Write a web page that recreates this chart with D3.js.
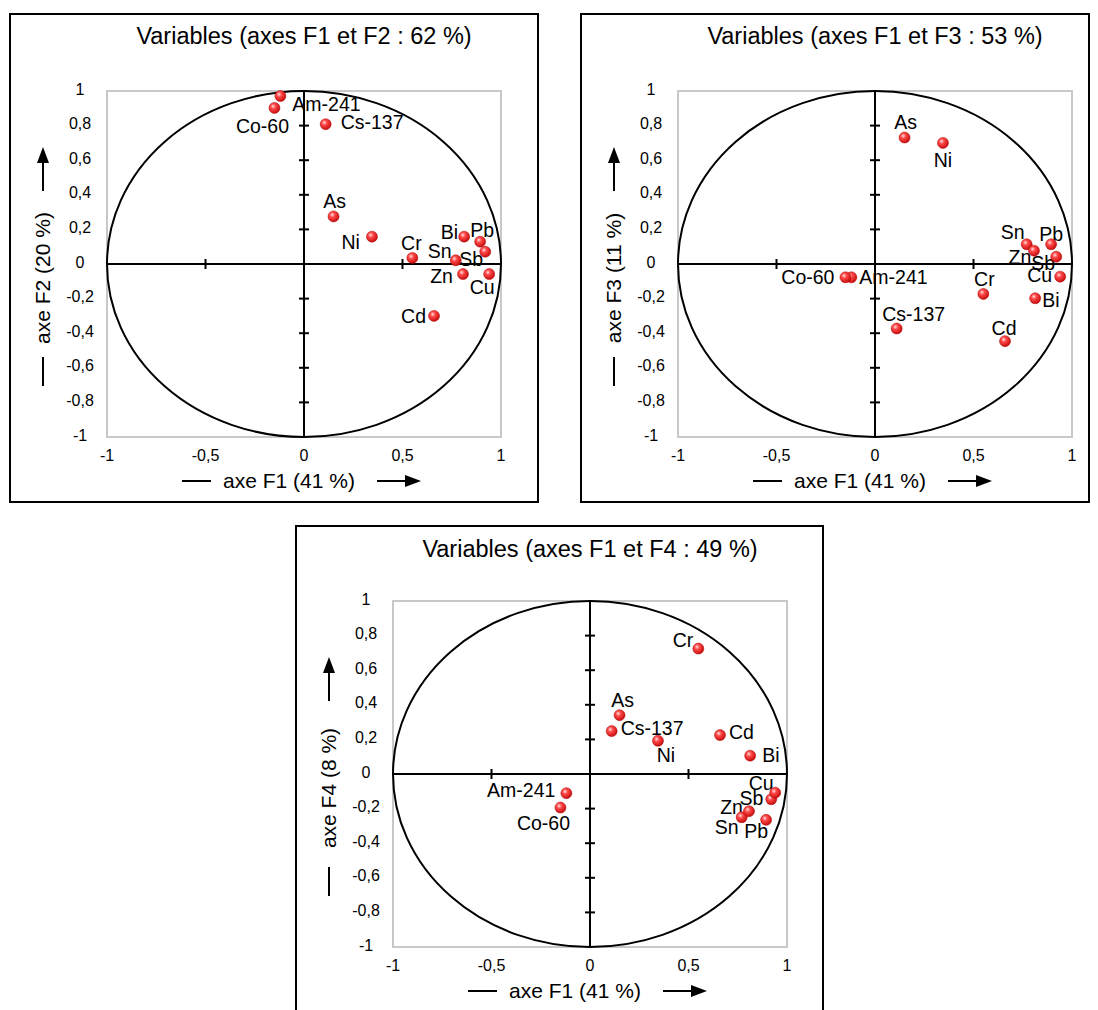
<!DOCTYPE html>
<html><head><meta charset="utf-8">
<script src="https://cdn.jsdelivr.net/npm/d3@7"></script>
<style>
html,body{margin:0;padding:0;background:#fff;}
svg{display:block;font-family:"Liberation Sans",Arial,Helvetica,sans-serif;}
</style></head>
<body>
<script>
// ---------- data ----------
const variables = ["Am-241","Co-60","Cs-137","As","Ni","Cr","Cd","Bi","Pb","Sb","Sn","Zn","Cu"];
const f1 = [-0.12,-0.15,0.11,0.15,0.345,0.55,0.66,0.813,0.894,0.92,0.77,0.807,0.94];
const f2 = [0.971,0.902,0.808,0.275,0.158,0.035,-0.300,0.158,0.129,0.071,0.021,-0.058,-0.058];
const f3 = [-0.077,-0.077,-0.373,0.731,0.700,-0.173,-0.446,-0.198,0.114,0.042,0.114,0.077,-0.073];
const f4 = [-0.111,-0.194,0.248,0.340,0.192,0.725,0.225,0.106,-0.265,-0.146,-0.250,-0.215,-0.108];
const axisNames = ["axe F1 (41 %)","axe F2 (20 %)","axe F3 (11 %)","axe F4 (8 %)"];
const titles = ["Variables (axes F1 et F2 : 62 %)","Variables (axes F1 et F3 : 53 %)","Variables (axes F1 et F4 : 49 %)"];
const xTicks = [-1,-0.5,0,0.5,1];
const yTicks = [-1,-0.8,-0.6,-0.4,-0.2,0,0.2,0.4,0.6,0.8,1];

// ---------- layout / label placement (presentation only) ----------
const panels = [
  {ys:f2, yName:axisNames[1], title:titles[0], gx:107, gy:91, outer:[10,14,538,502], titleY:36},
  {ys:f3, yName:axisNames[2], title:titles[1], gx:678, gy:91, outer:[581,14,1089,502], titleY:36},
  {ys:f4, yName:axisNames[3], title:titles[2], gx:393, gy:601, outer:[296,526,823,1013], titleY:549}
];
const W = 394, H = 346;
// [anchor, dx, dy] relative to the point
const placement = [
  {"Am-241":["start",12,8],"Co-60":["middle",-12,18],"Cs-137":["start",15,-2],"As":["middle",1,-15],
   "Ni":["end",-12,6],"Cr":["middle",-1,-15],"Cd":["end",-8,0],"Bi":["end",-6,-4],"Pb":["middle",2,-12],
   "Sb":["middle",-14,7],"Sn":["end",-4,-9],"Zn":["end",-10,2],"Cu":["middle",-7,13]},
  {"Sn":["middle",-14,-12],"Pb":["middle",0,-10],"Zn":["middle",-14,6],"Sb":["middle",-13,6],
   "Cu":["end",-8,-1],"Bi":["start",7,2],"Cr":["middle",1,-15],"As":["middle",1,-15],"Ni":["middle",0,17],
   "Co-60":["end",-11,0],"Am-241":["start",8,0],"Cs-137":["middle",17,-14],"Cd":["middle",-1,-13]},
  {"Bi":["start",12,0],"Cu":["middle",-14,-10],"Sb":["end",-8,-1],"Zn":["end",-6,-4],"Sn":["middle",-15,10],
   "Pb":["middle",-10,11],"Cr":["end",-5,-8],"As":["middle",3,-15],"Cs-137":["start",9,-3],
   "Ni":["middle",8,14],"Cd":["start",9,-3],"Am-241":["end",-11,-3],"Co-60":["middle",-17,16]}
];

const fr = d3.formatLocale({decimal:",", thousands:" ", grouping:[3], currency:["","€"], minus:"-"});
const fmt = v => fr.format("~g")(+v.toFixed(2));

const svg = d3.select("body").append("svg").attr("width",1098).attr("height",1010);
const defs = svg.append("defs");
const grad = defs.append("radialGradient").attr("id","ball").attr("cx","38%").attr("cy","35%").attr("r","65%");
grad.append("stop").attr("offset","0%").attr("stop-color","#ffe0e0");
grad.append("stop").attr("offset","35%").attr("stop-color","#ff4a4a");
grad.append("stop").attr("offset","100%").attr("stop-color","#c80e0e");

function arrowH(g, x1, x2, y){
  g.append("line").attr("x1",x1).attr("x2",x2-12).attr("y1",y).attr("y2",y).attr("stroke","#000").attr("stroke-width",2);
  g.append("path").attr("d",`M${x2},${y} L${x2-16},${y-6} L${x2-16},${y+6} Z`).attr("fill","#000");
}
function arrowV(g, x, y1, y2){ // y2 above (smaller)
  g.append("line").attr("x1",x).attr("x2",x).attr("y1",y1).attr("y2",y2+12).attr("stroke","#000").attr("stroke-width",2);
  g.append("path").attr("d",`M${x},${y2} L${x-6},${y2+16} L${x+6},${y2+16} Z`).attr("fill","#000");
}

panels.forEach((p, pi) => {
  const g = svg.append("g");
  const x = d3.scaleLinear().domain([-1,1]).range([p.gx, p.gx+W]);
  const y = d3.scaleLinear().domain([-1,1]).range([p.gy+H, p.gy]);
  const cx = x(0), cy = y(0);
  const [ox0,oy0,ox1,oy1] = p.outer;

  g.append("rect").attr("x",ox0).attr("y",oy0).attr("width",ox1-ox0).attr("height",oy1-oy0)
    .attr("fill","#fff").attr("stroke","#000").attr("stroke-width",2);

  g.append("text").attr("x",cx).attr("y",p.titleY).attr("dy","0.35em").attr("text-anchor","middle")
    .attr("font-size",23.5).attr("fill","#000").text(p.title);

  // plot frame
  g.append("rect").attr("x",x(-1)).attr("y",y(1)).attr("width",x(1)-x(-1)).attr("height",y(-1)-y(1))
    .attr("fill","none").attr("stroke","#c8c8c8").attr("stroke-width",2);

  // correlation circle
  g.append("ellipse").attr("cx",cx).attr("cy",cy).attr("rx",x(1)-cx).attr("ry",cy-y(1))
    .attr("fill","none").attr("stroke","#000").attr("stroke-width",2);

  // axes
  g.append("line").attr("x1",x(-1)).attr("x2",x(1)).attr("y1",cy).attr("y2",cy).attr("stroke","#000").attr("stroke-width",2);
  g.append("line").attr("x1",cx).attr("x2",cx).attr("y1",y(-1)).attr("y2",y(1)).attr("stroke","#000").attr("stroke-width",2);
  xTicks.filter(t => t!==0 && Math.abs(t)!==1).forEach(t => {
    g.append("line").attr("x1",x(t)).attr("x2",x(t)).attr("y1",cy-5).attr("y2",cy+5).attr("stroke","#000").attr("stroke-width",2);
  });
  yTicks.filter(t => t!==0 && Math.abs(t)!==1).forEach(t => {
    g.append("line").attr("x1",cx-5).attr("x2",cx+5).attr("y1",y(t)).attr("y2",y(t)).attr("stroke","#000").attr("stroke-width",2);
  });

  // tick labels
  g.selectAll(".xt").data(xTicks).join("text").attr("x",d=>x(d)).attr("y",y(-1)+18).attr("dy","0.35em")
    .attr("text-anchor","middle").attr("font-size",16).text(fmt);
  g.selectAll(".yt").data(yTicks).join("text").attr("x",x(-1)-27).attr("y",d=>y(d)-2).attr("dy","0.35em")
    .attr("text-anchor","middle").attr("font-size",16).text(fmt);

  // x axis title
  const ty = y(-1)+44;
  g.append("line").attr("x1",cx-122).attr("x2",cx-93).attr("y1",ty).attr("y2",ty).attr("stroke","#000").attr("stroke-width",2);
  g.append("text").attr("x",cx-15).attr("y",ty).attr("dy","0.35em").attr("text-anchor","middle").attr("font-size",21).text(axisNames[0]);
  arrowH(g, cx+73, cx+117, ty);

  // y axis title
  const tx = x(-1)-64;
  g.append("line").attr("x1",tx).attr("x2",tx).attr("y1",cy+93).attr("y2",cy+122).attr("stroke","#000").attr("stroke-width",2);
  g.append("text").attr("transform",`translate(${tx},${cy+14}) rotate(-90)`).attr("dy","0.35em")
    .attr("text-anchor","middle").attr("font-size",21).text(p.yName);
  arrowV(g, tx, cy-73, cy-117);

  // data
  const pts = variables.map((name,i) => ({name, vx:f1[i], vy:p.ys[i]}));
  const pl = placement[pi];
  g.selectAll(".lab").data(pts).join("text")
    .attr("x",d=>x(d.vx)+pl[d.name][1]).attr("y",d=>y(d.vy)+pl[d.name][2]).attr("dy","0.35em")
    .attr("text-anchor",d=>pl[d.name][0]).attr("font-size",19.5).attr("fill","#000").text(d=>d.name);
  g.selectAll(".pt").data(pts).join("circle")
    .attr("cx",d=>x(d.vx)).attr("cy",d=>y(d.vy)).attr("r",5.5)
    .attr("fill","url(#ball)").attr("stroke","#b00000").attr("stroke-width",0.5);
});
</script>
</body></html>
